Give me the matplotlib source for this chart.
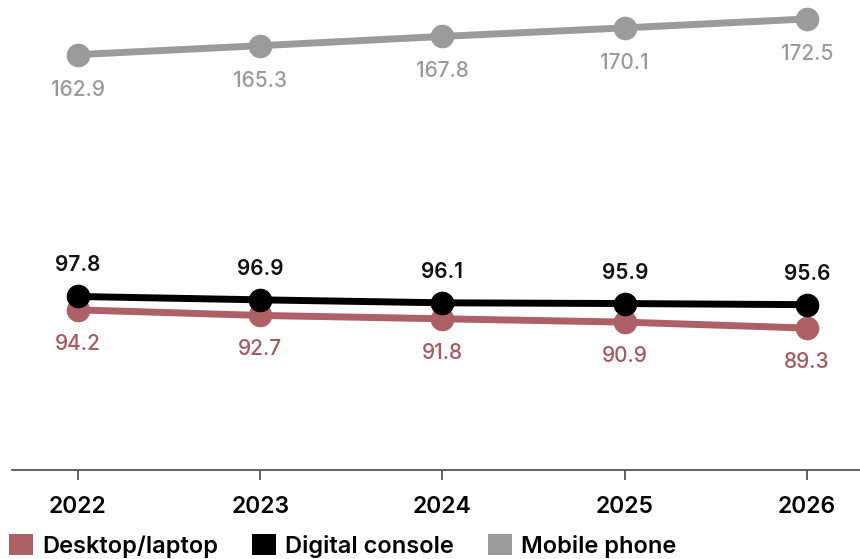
import matplotlib.pyplot as plt
from matplotlib.patches import Patch

plt.rcParams['font.family'] = ['Inter', 'DejaVu Sans']

years = [2022, 2023, 2024, 2025, 2026]
desktop = [94.2, 92.7, 91.8, 90.9, 89.3]
console = [97.8, 96.9, 96.1, 95.9, 95.6]
mobile = [162.9, 165.3, 167.8, 170.1, 172.5]

red = '#ad6166'
gray = '#9b9b9b'
black = '#000000'

fig = plt.figure(figsize=(8.6, 5.59), dpi=100)
ax = fig.add_axes([12 / 860, 1 - 470 / 559, 848 / 860, 470 / 559])

# series: values, colour, label colour, label offset in px
series = [
    ('Desktop/laptop', desktop, red, '#a9585e', -34, 2),
    ('Digital console', console, black, '#111111', 31, 3),
    ('Mobile phone', mobile, gray, '#9a9a9a', -35, 1),
]

for name, vals, col, tcol, off, z in series:
    ax.plot(years, vals, color=col, lw=5, marker='o', ms=16,
            solid_capstyle='round', zorder=z, clip_on=False)
    for x, v in zip(years, vals):
        ax.annotate(f'{v:.1f}', (x, v), xytext=(0, off), textcoords='offset pixels',
                    ha='center', va='center', fontsize=15, color=tcol,
                    fontweight='semibold' if col == black else 'medium')

ax.set_xlim(2022 - 66 / 182.25, 2026 + 53 / 182.25)
ax.set_ylim(51.1, 177.6)
ax.set_xticks(years)
ax.set_xticklabels([str(y) for y in years], fontsize=16.5, fontweight='semibold')
ax.set_yticks([])
for s in ['top', 'left', 'right']:
    ax.spines[s].set_visible(False)
ax.spines['bottom'].set_color('#555555')
ax.spines['bottom'].set_linewidth(1.3)
ax.tick_params(axis='x', length=7, width=1.3, color='#555555', pad=12)

handles = [Patch(facecolor=c, edgecolor='none', label=n) for n, _, c, _, _, _ in series]
fig.legend(handles=handles, loc='center left', bbox_to_anchor=(9 / 860, 1 - 546 / 559),
           ncol=3, frameon=False, handlelength=1.0, handleheight=1.0,
           handletextpad=0.4, columnspacing=1.45, borderaxespad=0, borderpad=0,
           prop={'size': 17, 'weight': 'semibold'})

fig.savefig('out.png', dpi=100)
